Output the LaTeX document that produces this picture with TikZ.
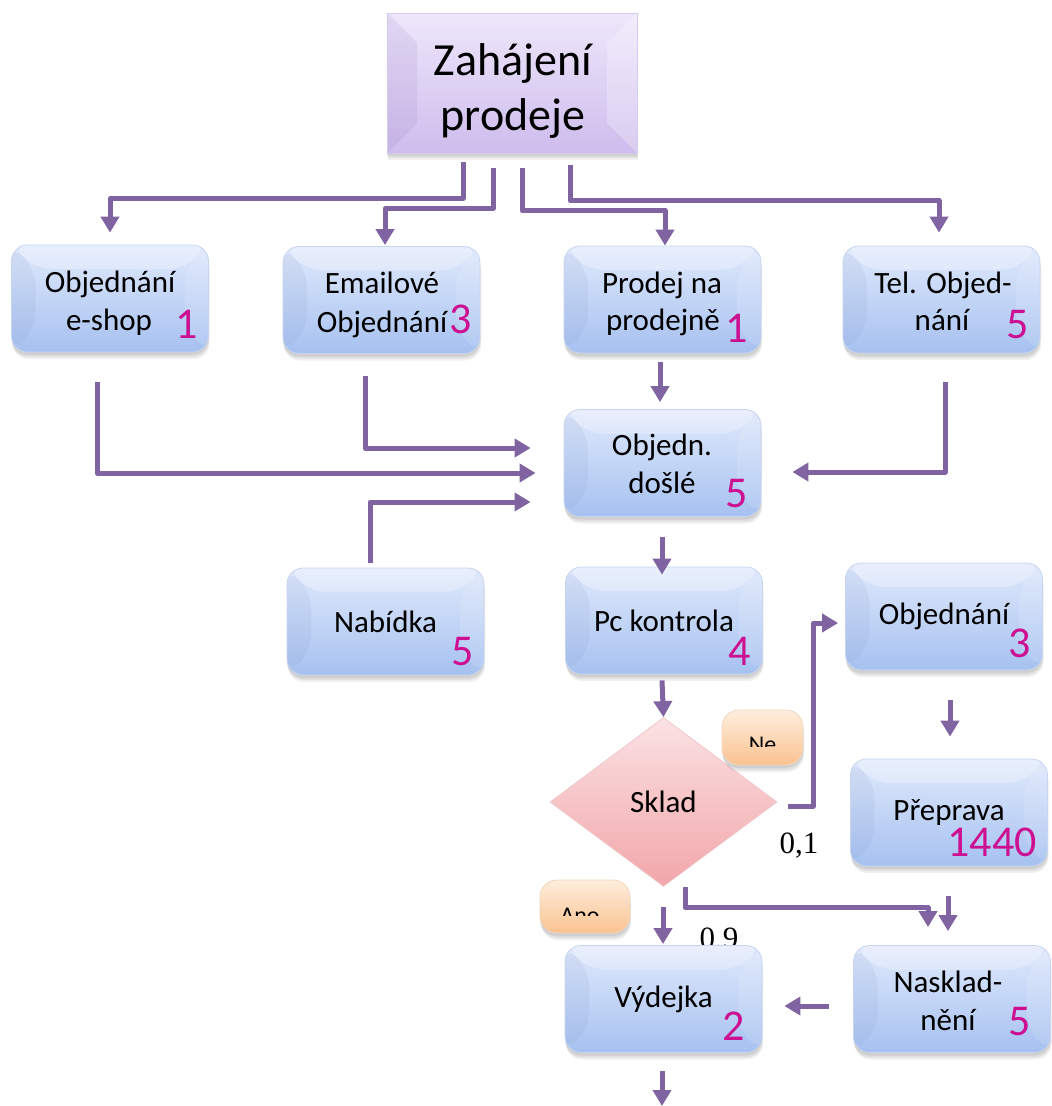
\documentclass[tikz,border=0pt]{standalone}
\usepackage{fontspec}
\setmainfont{Carlito}
\newfontfamily\probfont{Liberation Serif}
\usetikzlibrary{shapes.geometric,arrows.meta,shadows}

\definecolor{flow}{RGB}{128,100,162}
\definecolor{numcol}{RGB}{204,16,146}
\definecolor{boxtop}{RGB}{224,233,252}
\definecolor{boxbot}{RGB}{166,193,240}
\definecolor{boxline}{RGB}{200,213,240}
\definecolor{boxside}{RGB}{120,140,190}
\definecolor{liltop}{RGB}{238,231,251}
\definecolor{lilbot}{RGB}{206,188,237}
\definecolor{liline}{RGB}{214,202,240}
\definecolor{lilside}{RGB}{150,120,190}
\definecolor{pinktop}{RGB}{251,226,228}
\definecolor{pinkbot}{RGB}{242,166,170}
\definecolor{pinkline}{RGB}{240,200,204}
\definecolor{peachtop}{RGB}{254,238,222}
\definecolor{peachbot}{RGB}{250,194,144}
\definecolor{peachline}{RGB}{240,214,190}

\begin{document}
\begin{tikzpicture}[x=1pt,y=-1pt,
  soft/.style={
    drop shadow={shadow xshift=0pt,shadow yshift=-3pt,fill=black,opacity=0.07},
    drop shadow={shadow xshift=0.5pt,shadow yshift=-5pt,fill=black,opacity=0.07},
    drop shadow={shadow xshift=1pt,shadow yshift=-7pt,fill=black,opacity=0.06}},
  bevel/.style={path picture={
    \fill[white,opacity=0.28] (path picture bounding box.north west)
      -- (path picture bounding box.north east)
      -- ([xshift=-#1,yshift=-#1]path picture bounding box.north east)
      -- ([xshift=#1,yshift=-#1]path picture bounding box.north west) -- cycle;
    \fill[boxside,opacity=0.10] (path picture bounding box.north west)
      -- ([xshift=#1,yshift=-#1]path picture bounding box.north west)
      -- ([xshift=#1,yshift=#1]path picture bounding box.south west)
      -- (path picture bounding box.south west) -- cycle;
    \fill[white,opacity=0.12] (path picture bounding box.north east)
      -- ([xshift=-#1,yshift=-#1]path picture bounding box.north east)
      -- ([xshift=-#1,yshift=#1]path picture bounding box.south east)
      -- (path picture bounding box.south east) -- cycle;}},
  box/.style={rectangle,rounded corners=16pt,draw=boxline,line width=0.8pt,
    top color=boxtop,bottom color=boxbot,minimum width=197pt,minimum height=107pt,
    inner sep=0pt,soft,bevel=24pt,font=\fontsize{31}{38}\selectfont},
  startbox/.style={rectangle,draw=liline,line width=0.8pt,top color=liltop,bottom color=lilbot,
    minimum width=250pt,minimum height=140pt,inner sep=0pt,soft,
    path picture={
      \fill[lilside,opacity=0.14] (path picture bounding box.north west)
        -- ([xshift=30pt,yshift=-30pt]path picture bounding box.north west)
        -- ([xshift=30pt,yshift=30pt]path picture bounding box.south west)
        -- (path picture bounding box.south west) -- cycle;
      \fill[white,opacity=0.25] (path picture bounding box.north east)
        -- ([xshift=-30pt,yshift=-30pt]path picture bounding box.north east)
        -- ([xshift=-30pt,yshift=30pt]path picture bounding box.south east)
        -- (path picture bounding box.south east) -- cycle;}},
  decision/.style={diamond,draw=pinkline,line width=0.8pt,top color=pinktop,bottom color=pinkbot,
    minimum width=227pt,minimum height=169pt,inner sep=0pt,
    font=\fontsize{31}{38}\selectfont},
  tag/.style={rectangle,rounded corners=17pt,draw=peachline,line width=0.8pt,
    top color=peachtop,bottom color=peachbot,inner sep=0pt,soft},
  txt/.style={anchor=base,inner sep=0pt,font=\fontsize{31}{38}\selectfont},
  bigtxt/.style={anchor=base,inner sep=0pt,font=\fontsize{46}{55}\selectfont},
  tagtxt/.style={anchor=base,inner sep=0pt,font=\fontsize{24}{28}\selectfont},
  num/.style={anchor=base,inner sep=0pt,text=numcol,font=\fontsize{44}{50}\selectfont},
  prob/.style={anchor=base,inner sep=0pt,font=\probfont\fontsize{31}{36}\selectfont},
  arr/.style={draw=flow,line width=5pt,line join=round,-{Triangle[width=18pt,length=16pt]}}
]
\useasboundingbox (0,0) rectangle (1052,1106);

% probability label partly hidden behind the issue-slip box
\node[prob] (p09) at (719,948) {0,9};

% start of the sale
\node[startbox] (zp) at (512,83) {};
\node[bigtxt] (zpa) at (513,75) {Zahájení};
\node[bigtxt] (zpb) at (513,130) {prodeje};

% order channels
\node[box] (b1) at (110,298.5) {};
\node[txt] (b1a) at (110,292) {Objednání};
\node[txt] (b1b) at (109,330) {e-shop};
\node[num] (b1n) at (187,338) {1};

\node[box] (b2) at (381.5,300) {};
\node[txt] (b2a) at (382,293) {Emailové};
\node[txt] (b2b) at (382,332) {Objednání};
\node[num] (b2n) at (461,333) {3};

\node[box] (b3) at (662.5,299.5) {};
\node[txt] (b3a) at (662,293) {Prodej na};
\node[txt] (b3b) at (663,330) {prodejně};
\node[num] (b3n) at (736.5,342) {1};

\node[box] (b4) at (941.5,299.5) {};
\node[txt] (b4a) at (943,293) {Tel. Objed-};
\node[txt] (b4b) at (942,330) {nání};
\node[num] (b4n) at (1017.5,338) {5};

% incoming orders
\node[box] (od) at (662.5,463) {};
\node[txt] (oda) at (662,455) {Objedn.};
\node[txt] (odb) at (662,493) {došlé};
\node[num] (odn) at (736.5,507) {5};

\node[box] (nab) at (385.5,621.5) {Nabídka};
\node[num] (nabn) at (463,665) {5};

\node[box] (pc) at (664,620.5) {Pc kontrola};
\node[num] (pcn) at (739.5,665) {4};

\node[box] (obj) at (944,616.5) {Objednání};
\node[num] (objn) at (1020,657) {3};

\node[box] (prep) at (949,812.5) {Přeprava};
\node[num] (prepn) at (992,856) {1440};

% stock decision
\node[decision] (sk) at (663.5,802) {Sklad};

\node[tag,minimum width=81pt,minimum height=55pt] (ne) at (762.5,737.5) {};
\begin{scope}
  \clip ([yshift=10pt]ne.north west) rectangle ([yshift=-8.5pt]ne.east);
  \node[tagtxt] (net) at ([yshift=-14.5pt]ne.center) {Ne};
\end{scope}

\node[tag,minimum width=90pt,minimum height=53pt] (ano) at (585,906.5) {};
\begin{scope}
  \clip ([yshift=10pt]ano.north west) rectangle ([yshift=-8.5pt]ano.east);
  \node[tagtxt] (anot) at ([xshift=-5pt,yshift=-16.5pt]ano.center) {Ano};
\end{scope}

\node[prob] (p01) at (799,853) {0,1};

% issue and restocking
\node[box] (vyd) at (663.5,999) {Výdejka};
\node[num] (vydn) at (733.5,1040) {2};

\node[box] (nask) at (952,999) {};
\node[txt] (naska) at (948,992) {Nasklad-};
\node[txt] (naskb) at (948,1030) {nění};
\node[num] (naskn) at (1020,1035) {5};

\coordinate (out) at (662,1106);

% connectors
\draw[arr] ([xshift=-49pt,yshift=-9pt]zp.south) -- ++(0,36) -| ([yshift=12pt]b1.north);
\draw[arr] ([xshift=-19pt,yshift=-15pt]zp.south) -- ++(0,40) -| ([xshift=3.5pt,yshift=1pt]b2.north);
\draw[arr] ([xshift=10pt,yshift=-15pt]zp.south) -- ++(0,42) -| ([xshift=2.5pt,yshift=0pt]b3.north);
\draw[arr] ([xshift=58pt,yshift=-12pt]zp.south) -- ++(0,35) -| ([xshift=-2.5pt,yshift=13pt]b4.north);

\draw[arr] ([xshift=-13pt,yshift=-30pt]b1.south) |- ([xshift=-28pt,yshift=-10pt]od.west);
\draw[arr] ([xshift=-16.5pt,yshift=-22pt]b2.south) |- ([xshift=-33pt,yshift=15pt]od.west);
\draw[arr] ([xshift=-2.5pt,yshift=-9pt]b3.south) -- ([xshift=-2.5pt,yshift=7pt]od.north);
\draw[arr] ([xshift=3.5pt,yshift=-29pt]b4.south) |- ([xshift=31pt,yshift=-9pt]od.east);
\draw[arr] ([xshift=-15.5pt,yshift=5pt]nab.north) |- ([xshift=-33pt,yshift=-39pt]od.west);

\draw[arr] ([xshift=-0.5pt,yshift=-20pt]od.south) -- ([xshift=-2pt,yshift=-8pt]pc.north);
\draw[arr] ([xshift=-2pt,yshift=-6pt]pc.south) -- (sk.north);
\draw[arr] ([xshift=11pt,yshift=-4pt]sk.east) -- ++(25,0) |- ([xshift=-7pt,yshift=-6.5pt]obj.west);
\draw[arr] ([xshift=6pt,yshift=-30pt]obj.south) -- ([xshift=1pt,yshift=22pt]prep.north);

\draw[arr] ([xshift=21.5pt,yshift=0pt]sk.south) -- ++(0,21) -| ([xshift=-24pt,yshift=18pt]vyd.north -| nask.north);
\draw[arr] ([xshift=-1pt,yshift=-30pt]prep.south) -- ([xshift=-4pt,yshift=14pt]nask.north);
\draw[arr] ([xshift=-0.5pt,yshift=-20pt]sk.south) -- ([xshift=-0.5pt,yshift=1pt]vyd.north);
\draw[arr] ([xshift=-24pt,yshift=-7pt]nask.west) -- ([xshift=22pt,yshift=-7pt]vyd.east);
\draw[arr] ([xshift=-1.5pt,yshift=-18pt]vyd.south) -- (out);
\end{tikzpicture}
\end{document}
